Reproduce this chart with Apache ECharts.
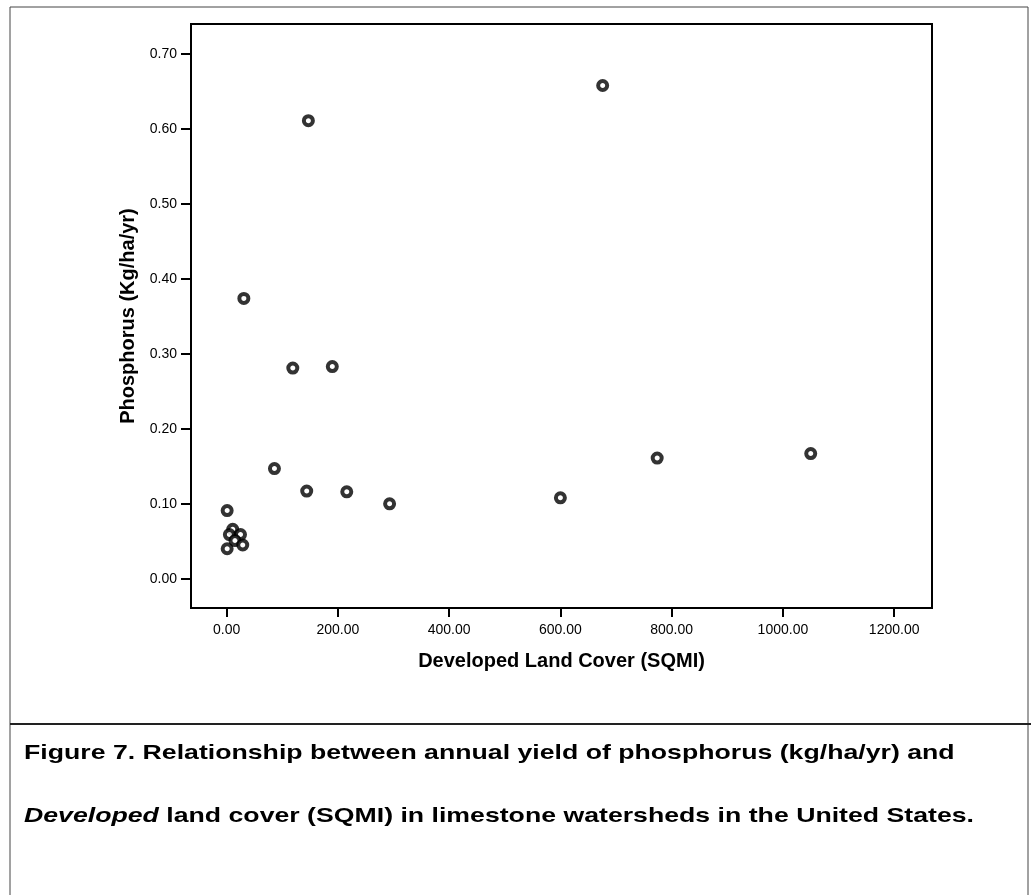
<!DOCTYPE html>
<html>
<head>
<meta charset="utf-8">
<script src="https://cdn.jsdelivr.net/npm/echarts@6/dist/echarts.min.js"></script>
<style>
  html, body { margin: 0; padding: 0; background: #fff; }
  #main { width: 1031px; height: 895px; }
</style>
</head>
<body>
<div id="main"></div>
<script>
// developed land cover (SQMI) and phosphorus yield (kg/ha/yr)
const developed = [147, 31, 676, 119, 190, 86, 144, 216, 293, 600, 774, 1050, 1, 11, 5, 25, 15, 29, 1]
const phosphorus = [0.611, 0.374, 0.658, 0.281, 0.283, 0.147, 0.117, 0.116, 0.100, 0.108, 0.161, 0.167, 0.091, 0.066, 0.059, 0.059, 0.051, 0.045, 0.040]

const xTicks = [0, 200, 400, 600, 800, 1000, 1200]
const yTicks = [0, 0.1, 0.2, 0.3, 0.4, 0.5, 0.6, 0.7]

const xTitle = 'Developed Land Cover (SQMI)'
const yTitle = 'Phosphorus (Kg/ha/yr)'
const caption1 = 'Figure 7. Relationship between annual yield of phosphorus (kg/ha/yr) and'
const caption2 = '{i|Developed} land cover (SQMI) in limestone watersheds in the United States.'

var chartDom = document.getElementById('main');
var myChart = echarts.init(chartDom);
var option;

const points = developed.map((x, i) => [x, phosphorus[i]])
const font = 'Liberation Sans, Arial, sans-serif'

option = {
  animation: false,
  backgroundColor: '#fff',
  grid: {
    left: 191,
    top: 24,
    width: 741,
    height: 584,
    show: true,
    borderColor: '#000',
    borderWidth: 2
  },
  xAxis: {
    type: 'value',
    min: -64,
    max: 1268,
    name: xTitle,
    nameLocation: 'middle',
    nameGap: 43,
    nameTextStyle: { fontFamily: font, fontSize: 20, fontWeight: 'bold', color: '#000' },
    axisLine: { onZero: false, lineStyle: { color: '#000', width: 2 } },
    axisTick: { customValues: xTicks, length: 9, lineStyle: { color: '#000', width: 2 } },
    axisLabel: {
      customValues: xTicks,
      margin: 15,
      fontFamily: font,
      fontSize: 14,
      color: '#000',
      formatter: v => v.toFixed(2)
    },
    splitLine: { show: false }
  },
  yAxis: {
    type: 'value',
    min: -0.039,
    max: 0.74,
    name: yTitle,
    nameLocation: 'middle',
    nameGap: 50,
    nameTextStyle: { fontFamily: font, fontSize: 20, fontWeight: 'bold', color: '#000' },
    axisLine: { show: true, onZero: false, lineStyle: { color: '#000', width: 2 } },
    axisTick: { show: true, customValues: yTicks, length: 10, lineStyle: { color: '#000', width: 2 } },
    axisLabel: {
      customValues: yTicks,
      margin: 14,
      fontFamily: font,
      fontSize: 14,
      color: '#000',
      formatter: v => v.toFixed(2)
    },
    splitLine: { show: false }
  },
  graphic: [
    {
      type: 'polyline',
      shape: { points: [[10, 895], [10, 7], [1028, 7], [1028, 895]] },
      style: { fill: 'none', stroke: '#444', lineWidth: 1 },
      silent: true
    },
    {
      type: 'line',
      shape: { x1: 10, y1: 724, x2: 1031, y2: 724 },
      style: { stroke: '#222', lineWidth: 2 },
      silent: true
    },
    {
      type: 'text',
      x: 24,
      y: 743,
      scaleX: 1.27,
      style: {
        x: 0, y: 0,
        text: caption1,
        align: 'left',
        verticalAlign: 'top',
        fontFamily: font, fontSize: 21, fontWeight: 'bold', fill: '#000'
      }
    },
    {
      type: 'text',
      x: 24,
      y: 806,
      scaleX: 1.27,
      style: {
        x: 0, y: 0,
        text: caption2,
        align: 'left',
        verticalAlign: 'top',
        fontFamily: font, fontSize: 21, fontWeight: 'bold', fill: '#000',
        rich: {
          i: { fontFamily: font, fontSize: 21, fontWeight: 'bold', fontStyle: 'italic', fill: '#000' }
        }
      }
    }
  ],
  series: [
    {
      type: 'scatter',
      data: points,
      symbol: 'circle',
      symbolSize: 9,
      itemStyle: { color: '#fff', borderColor: '#000', borderWidth: 4 }
    }
  ]
};

option && myChart.setOption(option);
</script>
</body>
</html>
